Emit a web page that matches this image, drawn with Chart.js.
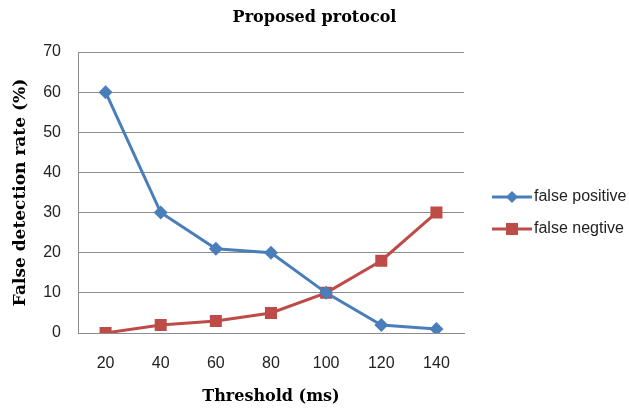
<!DOCTYPE html>
<html>
<head>
<meta charset="utf-8">
<script src="https://cdn.jsdelivr.net/npm/chart.js@4"></script>
<style>
  html, body { margin: 0; padding: 0; background: #fff; }
  #wrap { width: 629px; height: 412px; }
</style>
</head>
<body>
<div id="wrap"><canvas id="myChart" width="629" height="412"></canvas></div>
<script>
const thresholds = ['20', '40', '60', '80', '100', '120', '140'];
const falsePositive = [60, 30, 21, 20, 10, 2, 1];
const falseNegative = [0, 2, 3, 5, 10, 18, 30];
const seriesNames = ['false positive', 'false negtive'];

const blue = '#4A7EBB';
const red = '#BE4B48';
const grid = '#8c8c8c';
const serif = '"DejaVu Serif", "Liberation Serif", serif';
const sans = '"Liberation Sans", Arial, sans-serif';

// legend drawn by hand so it sits where the original puts it
const sideLegend = {
  id: 'sideLegend',
  afterDraw(chart) {
    const c = chart.ctx;
    chart.data.datasets.forEach((ds, i) => {
      const y = 197 + i * 32;
      c.save();
      c.strokeStyle = ds.borderColor;
      c.lineWidth = 3;
      c.beginPath();
      c.moveTo(492, y);
      c.lineTo(532, y);
      c.stroke();
      c.fillStyle = ds.borderColor;
      c.beginPath();
      if (ds.pointStyle === 'rectRot') {
        c.moveTo(512, y - 6);
        c.lineTo(518, y);
        c.lineTo(512, y + 6);
        c.lineTo(506, y);
      } else {
        c.rect(506, y - 6, 12, 12);
      }
      c.fill();
      c.fillStyle = '#222';
      c.font = '16px ' + sans;
      c.textBaseline = 'middle';
      c.fillText(ds.label, 534, y);
      c.restore();
    });
  },
};

const ctx = document.getElementById('myChart').getContext('2d');
const myChart = new Chart(ctx, {
  type: 'line',
  data: {
    labels: thresholds,
    datasets: [{
      label: seriesNames[0],
      data: falsePositive,
      borderColor: blue,
      backgroundColor: blue,
      borderWidth: 3,
      pointStyle: 'rectRot',
      pointRadius: 7,
      pointBorderWidth: 0,
      tension: 0,
    }, {
      label: seriesNames[1],
      data: falseNegative,
      borderColor: red,
      backgroundColor: red,
      borderWidth: 3,
      pointStyle: 'rect',
      pointRadius: 8.5,
      pointBorderWidth: 0,
      tension: 0,
    }],
  },
  options: {
    responsive: false,
    animation: false,
    plugins: {
      legend: { display: false },
      tooltip: { enabled: false },
      title: {
        display: true,
        text: 'Proposed protocol',
        color: '#000',
        font: { family: serif, size: 16, weight: 'bold', lineHeight: 1.2 },
        padding: { top: 8, bottom: 24.8 },
      },
    },
    scales: {
      x: {
        offset: true,
        grid: { display: false, drawTicks: false },
        border: { display: true, color: grid, width: 1 },
        ticks: {
          color: '#222',
          padding: 21,
          font: { family: sans, size: 16 },
        },
        title: {
          display: true,
          text: 'Threshold (ms)',
          color: '#000',
          font: { family: serif, size: 16, weight: 'bold', lineHeight: 1.2 },
          padding: { top: 0, bottom: 6 },
        },
        afterFit(scale) { scale.height = 79; },
      },
      y: {
        min: 0,
        max: 70,
        grid: { color: grid, lineWidth: 1, drawTicks: false },
        border: { display: true, color: grid, width: 1 },
        ticks: {
          stepSize: 10,
          color: '#222',
          padding: 17,
          font: { family: sans, size: 16 },
        },
        title: {
          display: true,
          text: 'False detection rate (%)',
          color: '#000',
          font: { family: serif, size: 17, weight: 'bold', lineHeight: 1.2 },
          padding: { top: 10, bottom: 0 },
        },
        afterFit(scale) { scale.width = 78; },
      },
      // empty right-hand axis that only reserves room for the legend
      side: {
        type: 'linear',
        position: 'right',
        grid: { display: false, drawTicks: false },
        border: { display: false },
        ticks: { display: false },
        afterFit(scale) { scale.width = 165; },
      },
    },
  },
  plugins: [sideLegend],
});
</script>
</body>
</html>
